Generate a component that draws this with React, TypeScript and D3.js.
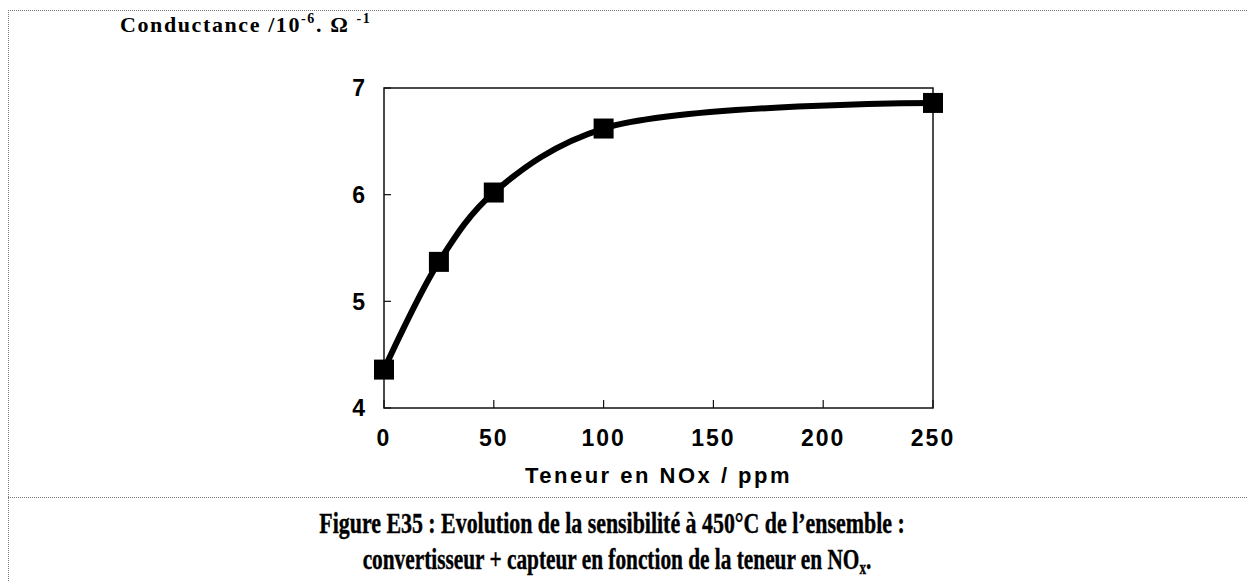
import * as d3 from 'd3';

// NOx content (ppm) and measured conductance (10^-6 S)
const noxPpm = [0, 25, 50, 100, 250];
const conductance = [4.36, 5.37, 6.02, 6.62, 6.86];

const xTicks = [0, 50, 100, 150, 200, 250];
const yTicks = [4, 5, 6, 7];

const W = 1247;
const H = 581;
const plot = { left: 384, right: 933, top: 88, bottom: 408 };

export default function App(): JSX.Element {
  const x = d3.scaleLinear().domain([0, 250]).range([plot.left, plot.right]);
  const y = d3.scaleLinear().domain([4, 7]).range([plot.bottom, plot.top]);

  const pts = noxPpm.map((n, i) => ({ n, c: conductance[i] }));

  const line = d3.line<{ n: number; c: number }>()
    .x(d => x(d.n))
    .y(d => y(d.c))
    .curve(d3.curveCatmullRom.alpha(0.5));

  const arial = 'Liberation Sans, Arial, sans-serif';
  const times = 'Liberation Serif, Times New Roman, serif';

  return (
    <svg
      width={W}
      height={H}
      style={{ position: 'absolute', left: 0, top: 0, background: 'white' }}
    >
      {/* dotted frame */}
      <g stroke="#777" strokeWidth={1} strokeDasharray="1,1">
        <line x1={8} x2={W} y1={10.5} y2={10.5} />
        <line x1={8.5} x2={8.5} y1={10} y2={H} />
        <line x1={8} x2={W} y1={497.5} y2={497.5} />
      </g>

      {/* y axis title */}
      <text
        x={120}
        y={32}
        fontFamily={times}
        fontWeight="bold"
        fontSize={22}
        letterSpacing={1.6}
      >
        Conductance /10
        <tspan dy={-9} fontSize={14}>-6</tspan>
        <tspan dy={9}>.  Ω </tspan>
        <tspan dy={-9} fontSize={14}>-1</tspan>
      </text>

      {/* plot frame */}
      <rect
        x={plot.left}
        y={plot.top}
        width={plot.right - plot.left}
        height={plot.bottom - plot.top}
        fill="none"
        stroke="#111"
        strokeWidth={1.5}
      />

      {/* y ticks */}
      {yTicks.map(t => (
        <g key={t} transform={`translate(${plot.left},${y(t)})`}>
          <line x2={7} stroke="#111" strokeWidth={1.2} />
          <text
            x={-19}
            dy="0.36em"
            textAnchor="end"
            fontFamily={arial}
            fontWeight="bold"
            fontSize={23}
          >
            {t}
          </text>
        </g>
      ))}

      {/* x ticks */}
      {xTicks.map(t => (
        <g key={t} transform={`translate(${x(t)},${plot.bottom})`}>
          <line y2={-8} stroke="#111" strokeWidth={1.2} />
          <text
            y={38}
            textAnchor="middle"
            fontFamily={arial}
            fontWeight="bold"
            fontSize={23}
            letterSpacing={2}
          >
            {t}
          </text>
        </g>
      ))}

      {/* x axis title */}
      <text
        x={(plot.left + plot.right) / 2}
        y={483}
        textAnchor="middle"
        fontFamily={arial}
        fontWeight="bold"
        fontSize={22}
        letterSpacing={2.5}
      >
        Teneur en NOx / ppm
      </text>

      {/* curve */}
      <path d={line(pts) || ''} fill="none" stroke="#000" strokeWidth={6} />

      {/* markers */}
      {pts.map(d => (
        <rect
          key={d.n}
          x={x(d.n) - 10}
          y={y(d.c) - 10}
          width={20}
          height={20}
          fill="#000"
        />
      ))}

      {/* caption, condensed like the scanned bold Times */}
      <g
        fontFamily={times}
        fontWeight="bold"
        fontSize={29}
        textAnchor="middle"
        stroke="#000"
        strokeWidth={0.4}
      >
        <text transform="translate(612,533) scale(0.755,1)">
          Figure E35 : Evolution de la sensibilité à 450°C de l’ensemble :
        </text>
        <text transform="translate(617,569) scale(0.735,1)">
          convertisseur + capteur en fonction de la teneur en NO
          <tspan dy={5} fontSize={18}>x</tspan>
          <tspan dy={-5}>.</tspan>
        </text>
      </g>
    </svg>
  );
}
